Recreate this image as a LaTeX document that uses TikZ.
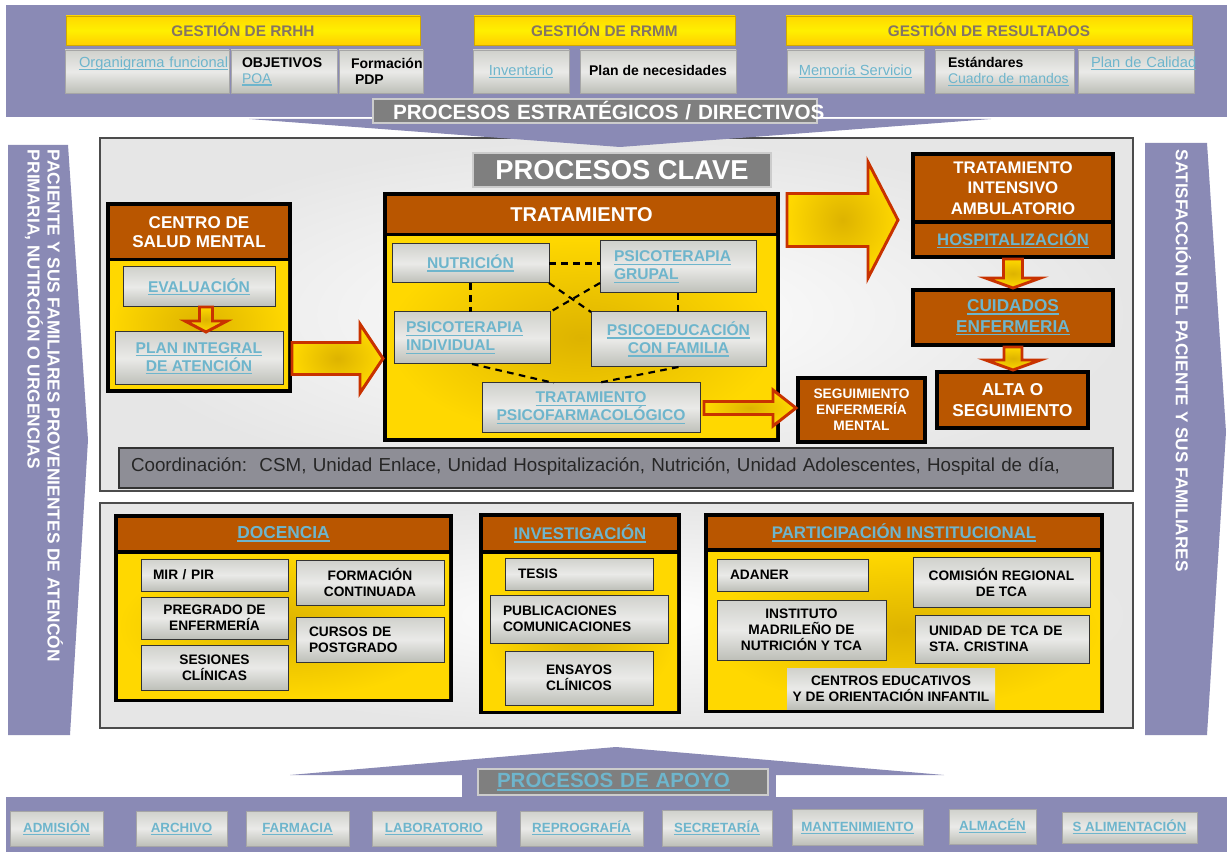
\documentclass[tikz,border=0pt]{standalone}
\usepackage{fontspec}
\setmainfont{Liberation Sans}
\usetikzlibrary{calc}
\definecolor{lav}{HTML}{8A8AB5}
\definecolor{brn}{HTML}{B95600}
\definecolor{lnk}{HTML}{6EB5CC}
\definecolor{ylw}{HTML}{FFD800}
\definecolor{ydk}{HTML}{DDB300}
\definecolor{gtx}{HTML}{857464}
\definecolor{ghd}{HTML}{D0A800}
\definecolor{ared}{HTML}{C83200}
\definecolor{grA}{HTML}{D0D1CC}
\definecolor{grB}{HTML}{EAEAE8}
\definecolor{grC}{HTML}{BDBFB8}
\definecolor{ttl}{HTML}{7F7F7F}
\definecolor{coordc}{HTML}{8E8E96}
\definecolor{pnl}{HTML}{E6E6E6}
\newcommand\fs[2]{\fontsize{#1}{#2}\selectfont}
\newcommand\ulk[1]{\setbox0=\hbox{#1}\rlap{\rule[-0.19em]{\wd0}{0.09em}}\box0}
\newcommand\lk[1]{\textcolor{lnk}{\ulk{#1}}}
% box by pixel corners: name,x1,y1,x2,y2,style,text
\newcommand\bx[7]{\pgfmathsetmacro\bxw{(#4-#2)*0.75}\pgfmathsetmacro\bxh{(#5-#3)*0.75}%
 \node[#6,minimum width=\bxw pt,minimum height=\bxh pt] (#1) at ({(#2+#4)/2},{(#3+#5)/2}) {#7};}
% left aligned box: name,x1,y1,x2,y2,pad,style,text
\newcommand\lbx[8]{\pgfmathsetmacro\bxw{(#4-#2)*0.75}\pgfmathsetmacro\bxh{(#5-#3)*0.75}\pgfmathsetmacro\bxt{(#4-#2-2*#6)*0.75}%
 \node[#7,minimum width=\bxw pt,minimum height=\bxh pt,text width=\bxt pt,align=left] (#1) at ({(#2+#4)/2},{(#3+#5)/2}) {#8};}
% right block arrow: start, end, shaft half, head half, head length (px)
\newcommand\rarrow[5]{\draw[barrow] let \p1=(#1), \p2=(#2) in
 (\x1,{\y1+#3*0.75pt}) -- ({\x2-#5*0.75pt},{\y1+#3*0.75pt}) -- ({\x2-#5*0.75pt},{\y1+#4*0.75pt}) -- (\x2,\y1)
 -- ({\x2-#5*0.75pt},{\y1-#4*0.75pt}) -- ({\x2-#5*0.75pt},{\y1-#3*0.75pt}) -- (\x1,{\y1-#3*0.75pt}) -- cycle;}
% down block arrow
\newcommand\darrow[5]{\draw[barrow] let \p1=(#1), \p2=(#2) in
 ({\x1-#3*0.75pt},\y1) -- ({\x1-#3*0.75pt},{\y2+#5*0.75pt}) -- ({\x1-#4*0.75pt},{\y2+#5*0.75pt}) -- (\x1,\y2)
 -- ({\x1+#4*0.75pt},{\y2+#5*0.75pt}) -- ({\x1+#3*0.75pt},{\y2+#5*0.75pt}) -- ({\x1+#3*0.75pt},\y1) -- cycle;}
\tikzset{
 every node/.style={inner sep=0pt,outer sep=0pt},
 ghead/.style={rectangle,draw=ghd,line width=0.6pt,top color=ylw,bottom color=ylw!90!orange,middle color=yellow!60!ylw,text=gtx,font=\fs{11.5}{14}\bfseries,text height=11pt,text depth=1.5pt},
 tbox/.style={rectangle,draw=gray!70,line width=0.5pt,top color=grA,bottom color=grC,middle color=grB},
 cbox/.style={rectangle,draw=black!80,line width=0.75pt,top color=grA,bottom color=grC,middle color=grB},
 cboxnb/.style={rectangle,top color=grA,bottom color=grC,middle color=grB},
 blkframe/.style={rectangle,fill=black},
 bhead/.style={rectangle,fill=brn,text=white},
 ybody/.style={rectangle,inner color=ydk,outer color=ylw},
 barrow/.style={draw=ared,line width=2.2pt,inner color=ydk,outer color=ylw,line join=miter},
 dcon/.style={black,line width=1.6pt,dash pattern=on 5pt off 4pt},
 ifont/.style={font=\fs{10.3}{12}\bfseries,text=black},
 lfont/.style={font=\fs{11.7}{13.5}\bfseries},
 panelbox/.style={rectangle,draw=black!70,line width=0.8pt,inner color=white,outer color=pnl},
 ttlbox/.style={rectangle,fill=ttl,draw=gray!40,line width=0.8pt},
 bfont/.style={font=\fs{10}{12}\bfseries,text height=8.5pt,text depth=2pt},
 onel/.style={text height=8pt,text depth=2.5pt},
 topl/.style={text height=8pt,text depth=14.5pt},
}
\begin{document}
\begin{tikzpicture}[x=0.75pt,y=-0.75pt]
\fill[white] (0,0) rectangle (1229,852);
\useasboundingbox (0,0) rectangle (1229,852);

% ===== panels =====
\bx{kpanel}{100}{138}{1133}{491}{panelbox}{}
\bx{bpanel}{100}{503}{1133}{728}{panelbox}{}

% ===== top band =====
\fill[lav] (6,5) rectangle (1227,117);
\bx{hrh}{66}{16}{420}{45}{ghead}{GESTIÓN DE RRHH}
\bx{hrm}{474}{16}{735}{45}{ghead}{GESTIÓN DE RRMM}
\bx{hres}{786}{16}{1192}{45}{ghead}{GESTIÓN DE RESULTADOS}
\lbx{org}{65}{50}{229}{93}{14}{tbox,topl,font=\fs{11}{13}}{\lk{Organigrama funcional}}
\lbx{obj}{231}{50}{337}{93}{11}{tbox,font=\fs{10.5}{12}}{\textbf{OBJETIVOS}\\\lk{POA}}
\lbx{frm}{339}{50}{423}{93}{12}{tbox,font=\fs{10.5}{12}\bfseries}{Formación\\\hspace*{3pt}PDP}
\bx{inv}{473}{50}{569}{93}{tbox,onel,font=\fs{11}{13}}{\lk{Inventario}}
\bx{pnec}{580}{50}{736}{93}{tbox,onel,font=\fs{10.5}{13}\bfseries}{Plan de necesidades}
\bx{mem}{787}{50}{924}{93}{tbox,onel,font=\fs{11}{13}}{\lk{Memoria Servicio}}
\lbx{est}{935}{50}{1074}{93}{13}{tbox,font=\fs{10.5}{12}}{\textbf{Estándares}\\\lk{Cuadro de mandos}}
\lbx{pcal}{1078}{50}{1194}{93}{13}{tbox,topl,font=\fs{11}{13}}{\lk{Plan de Calidad}}
\fill[lav] (249,119) -- (991,119) -- (620,147) -- cycle;
\lbx{pest}{373}{99}{817}{123}{20}{ttlbox,text=white,font=\fs{15.5}{17}\bfseries}{\mbox{PROCESOS ESTRATÉGICOS / DIRECTIVOS}}

% ===== procesos clave =====
\bx{pclave}{473}{153}{771}{187}{ttlbox,text=white,font=\fs{20.5}{24}\bfseries}{PROCESOS CLAVE}

% CSM
\bx{csm}{106}{202}{292}{393}{blkframe}{}
\bx{csmh}{110}{206}{288}{258}{bhead,font=\fs{12.8}{14.5}\bfseries,align=center}{CENTRO DE\\SALUD MENTAL}
\bx{csmb}{110}{262}{288}{389}{ybody}{}
\bx{ev}{123}{267}{275}{307}{cbox,lfont}{\lk{EVALUACIÓN}}
\bx{pl}{115}{332}{283}{385}{cbox,lfont,align=center}{\lk{PLAN INTEGRAL}\\\lk{DE ATENCIÓN}}
\darrow{[xshift=5.25pt]ev.south}{[xshift=5.25pt]pl.north}{6.5}{21}{11}

% TRATAMIENTO
\bx{trat}{383}{192}{780}{442}{blkframe}{}
\bx{trath}{387}{196}{776}{233}{bhead,font=\fs{15}{17}\bfseries}{TRATAMIENTO}
\bx{tratb}{387}{237}{776}{438}{ybody}{}
\bx{nut}{392}{244}{549}{283}{cbox,lfont}{\lk{NUTRICIÓN}}
\lbx{grp}{600}{241}{756}{293}{14}{cbox,lfont}{\lk{PSICOTERAPIA}\\\lk{GRUPAL}}
\lbx{ind}{394}{312}{550}{364}{12}{cbox,lfont}{\lk{PSICOTERAPIA}\\\lk{INDIVIDUAL}}
\bx{psed}{591}{312}{766}{367}{cbox,lfont,align=center}{\lk{PSICOEDUCACIÓN}\\\lk{CON FAMILIA}}
\bx{pf}{482}{383}{700}{433}{cbox,lfont,align=center}{\lk{TRATAMIENTO}\\\lk{PSICOFARMACOLÓGICO}}
\draw[dcon] (nut.east) -- (nut.east -| grp.west);
\draw[dcon] (nut.south) -- (nut.south |- ind.north);
\draw[dcon] (nut.south east) -- (psed.north west);
\draw[dcon] ([yshift=7.5pt]grp.south west) -- (ind.north east);
\draw[dcon] (grp.south) -- (grp.south |- psed.north);
\draw[dcon] (ind.south) -- ($(pf.north west)!0.33!(pf.north east)$);
\draw[dcon] (psed.south) -- ($(pf.north west)!0.53!(pf.north east)$);
\rarrow{csm.east |- pl.east}{trat.west}{16}{34.5}{23}

% right column
\bx{tia}{911}{152}{1115}{259}{blkframe}{}
\bx{tiah}{915}{156}{1111}{220}{bhead,font=\fs{12.6}{15.4}\bfseries,align=center}{TRATAMIENTO\\INTENSIVO\\AMBULATORIO}
\bx{hosp}{915}{224}{1111}{255}{bhead,font=\fs{12.5}{14}\bfseries}{\lk{HOSPITALIZACIÓN}}
\bx{cui}{911}{288}{1115}{347}{blkframe}{}
\bx{cuii}{915}{292}{1111}{343}{bhead,font=\fs{12.9}{15.5}\bfseries,align=center}{\lk{CUIDADOS}\\\lk{ENFERMERIA}}
\bx{alta}{935}{370}{1090}{430}{blkframe}{}
\bx{altai}{939}{374}{1086}{426}{bhead,font=\fs{12.9}{15.5}\bfseries,align=center}{ALTA O\\SEGUIMIENTO}
\bx{seg}{796}{376}{927}{444}{blkframe}{}
\bx{segi}{800}{380}{923}{440}{bhead,font=\fs{10.3}{12}\bfseries,align=center}{SEGUIMIENTO\\ENFERMERÍA\\MENTAL}
\coordinate (a2s) at (787,220);
\rarrow{a2s}{[xshift=-9.75pt]tia.west}{26.5}{58}{30}
\rarrow{[xshift=3pt]pf.east}{seg.west}{6.5}{18}{23}
\darrow{tia.south}{cui.north}{9.5}{27.5}{10}
\darrow{cui.south}{alta.north}{9}{27.5}{10}

% coordination
\lbx{coord}{119}{448}{1113}{488}{12}{rectangle,fill=coordc,draw=black!80,line width=0.8pt,text=black!85,font=\fs{14.1}{16},onel}{\mbox{Coordinación:\ \ CSM, Unidad Enlace, Unidad Hospitalización, Nutrición, Unidad Adolescentes, Hospital de día,}}

% ===== bottom sections =====
\bx{doc}{114}{514}{453}{702}{blkframe}{}
\bx{doch}{118}{518}{449}{550}{bhead,font=\fs{13}{15}\bfseries}{\lk{DOCENCIA}}
\bx{docb}{118}{554}{449}{698}{ybody}{}
\lbx{mir}{141}{559}{288}{591}{12}{cbox,ifont}{MIR / PIR}
\bx{fc}{296}{560}{444}{605}{cbox,ifont,align=center}{FORMACIÓN\\CONTINUADA}
\bx{preg}{141}{597}{288}{639}{cbox,ifont,align=center}{PREGRADO DE\\ENFERMERÍA}
\lbx{cur}{296}{617}{444}{662}{13}{cbox,ifont}{CURSOS DE\\POSTGRADO}
\bx{ses}{141}{645}{288}{690}{cbox,ifont,align=center}{SESIONES\\CLÍNICAS}

\bx{invs}{479}{513}{681}{714}{blkframe}{}
\bx{invh}{483}{517}{677}{550}{bhead,font=\fs{12.6}{15}\bfseries}{\lk{INVESTIGACIÓN}}
\bx{invb}{483}{554}{677}{710}{ybody}{}
\lbx{tes}{505}{558}{653}{590}{13}{cbox,ifont}{TESIS}
\lbx{pub}{490}{595}{668}{643}{13}{cbox,ifont}{PUBLICACIONES\\COMUNICACIONES}
\bx{ens}{505}{651}{653}{705}{cbox,ifont,align=center}{ENSAYOS\\CLÍNICOS}

\bx{part}{704}{513}{1104}{713}{blkframe}{}
\bx{parth}{708}{517}{1100}{548}{bhead,font=\fs{12.6}{15}\bfseries}{\lk{PARTICIPACIÓN INSTITUCIONAL}}
\bx{partb}{708}{552}{1100}{709}{ybody}{}
\lbx{adn}{717}{559}{868}{591}{13}{cbox,ifont}{ADANER}
\bx{com}{913}{557}{1090}{607}{cbox,ifont,align=center}{COMISIÓN REGIONAL\\DE TCA}
\bx{ins}{717}{600}{886}{660}{cbox,ifont,align=center}{INSTITUTO\\MADRILEÑO DE\\NUTRICIÓN Y TCA}
\lbx{uni}{915}{615}{1089}{663}{14}{cbox,ifont}{UNIDAD DE TCA DE\\STA. CRISTINA}
\bx{cen}{787}{668}{995}{709}{cboxnb,ifont,align=center}{CENTROS EDUCATIVOS\\Y DE ORIENTACIÓN INFANTIL}

% ===== side arrows =====
\fill[lav] (8,145) -- (68,145) -- (88,440) -- (70,735) -- (8,735) -- cycle;
\node[rotate=-90,anchor=north west,align=left,text=white,font=\fs{13}{15}\bfseries] (ltxt) at (63,150) {PACIENTE Y SUS FAMILIARES PROVENIENTES DE ATENCÓN\\PRIMARIA, NUTIRCIÓN O URGENCIAS};
\fill[lav] (1145,143) -- (1207,143) -- (1226,432) -- (1207,735) -- (1145,735) -- cycle;
\node[rotate=-90,anchor=north west,text=white,font=\fs{12.9}{15}\bfseries] (rtxt) at (1191,150) {SATISFACCIÓN DEL PACIENTE Y SUS FAMILIARES};

% ===== bottom band =====
\fill[lav] (290,775) -- (616,747) -- (944,775) -- cycle;
\fill[lav] (462,774) rectangle (776,798);
\fill[lav] (6,797) rectangle (1227,852);
\lbx{apoyo}{478}{769}{768}{795}{19}{ttlbox,font=\fs{15.4}{17}\bfseries,text height=11pt,text depth=3pt}{\mbox{\lk{PROCESOS DE APOYO}}}
\bx{adm}{10}{811}{103}{846}{tbox,bfont}{\lk{ADMISIÓN}}
\bx{arc}{136}{811}{227}{846}{tbox,bfont}{\lk{ARCHIVO}}
\bx{far}{246}{811}{349}{846}{tbox,bfont}{\lk{FARMACIA}}
\bx{lab}{372}{811}{496}{846}{tbox,bfont}{\lk{LABORATORIO}}
\bx{rep}{520}{811}{643}{846}{tbox,bfont}{\lk{REPROGRAFÍA}}
\bx{sec}{662}{810}{772}{846}{tbox,bfont}{\lk{SECRETARÍA}}
\bx{man}{792}{809}{923}{845}{tbox,bfont}{\lk{MANTENIMIENTO}}
\bx{alm}{949}{809}{1036}{844}{tbox,bfont}{\lk{ALMACÉN}}
\bx{sal}{1062}{812}{1197}{843}{tbox,bfont}{\lk{S ALIMENTACIÓN}}
\end{tikzpicture}
\end{document}
